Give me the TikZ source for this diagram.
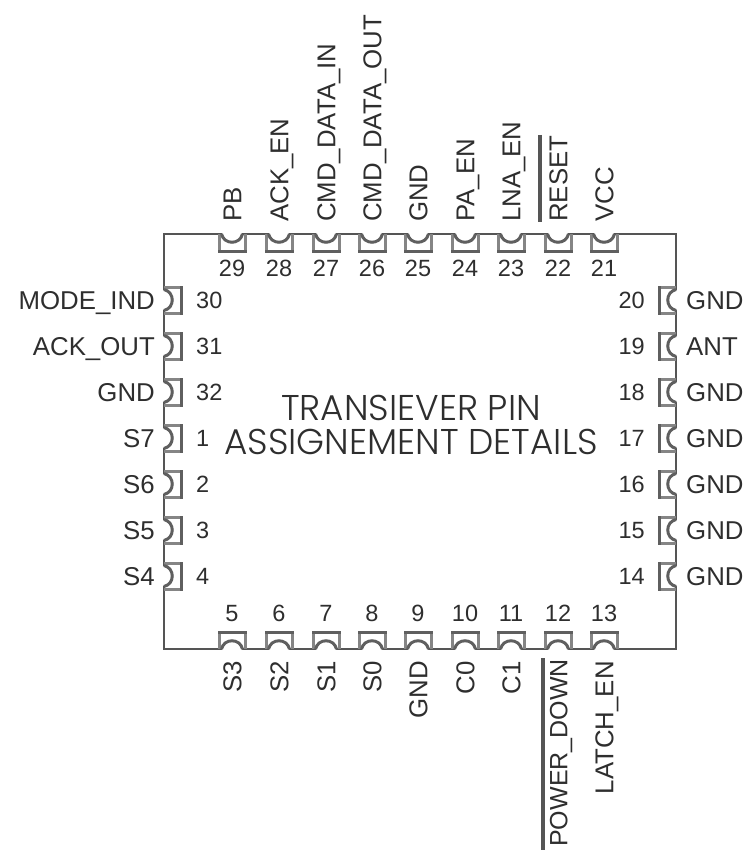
\documentclass[tikz,border=0pt]{standalone}
\usepackage{fontspec}
\setmainfont{Liberation Sans}
\newfontfamily\titlefont{Poppins}[UprightFont=* Light]
\definecolor{bodyline}{HTML}{555555}
\definecolor{padline}{HTML}{858585}
\definecolor{txt}{HTML}{2E2E2E}
\tikzset{
  x=1pt,y=-1pt,
  outline/.style={draw=bodyline,line width=2.8pt},
  pin/.style={text=txt,inner sep=0pt,text height=17pt,text depth=0pt,font=\fontsize{23.5}{24}\selectfont},
  sig/.style={text=txt,inner sep=0pt,text height=18.5pt,text depth=0pt,font=\fontsize{25.8}{26}\selectfont},
  bar/.style={draw=bodyline,line width=4pt},
  pads/.pic={
    \draw[padline,line width=3pt] (-13,0)--(-13,17)--(13,17)--(13,0);
    \draw[bodyline!80!padline,line width=3pt,line cap=rect] (-13,17)--(13,17);
    \fill[white] (-10,-2) rectangle (10,2);
    \path[fill=white,draw=bodyline!80!padline,line width=3pt] (-10.5,0) .. controls (-8,11) and (8,11) .. (10.5,0);
  }
}
\begin{document}
\begin{tikzpicture}
\useasboundingbox (0,0) rectangle (745,850);
\fill[white] (0,0) rectangle (745,850);
\path[outline] (164,234) rectangle (676,649);
% top side
\foreach \x/\n/\s in {232/29/PB,279/28/ACK\_EN,326/27/CMD\_DATA\_IN,372/26/CMD\_DATA\_OUT,418/25/GND,465/24/PA\_EN,511/23/LNA\_EN,558/22/RESET,604/21/VCC}{
  \pic at (\x,234) {pads};
  \node[pin] (p\n) at (\x,268) {\n};
  \node[sig,rotate=90,anchor=west] (s\n) at (\x,222) {\s};
}
% bottom side
\foreach \x/\n/\s in {232/5/S3,279/6/S2,326/7/S1,372/8/S0,418/9/GND,465/10/C0,511/11/C1,604/13/LATCH\_EN}{
  \pic[rotate=180] at (\x,649) {pads};
  \node[pin] (p\n) at (\x,613) {\n};
  \node[sig,rotate=90,anchor=east] (s\n) at (\x,661) {\s};
}
\pic[rotate=180] at (558,649) {pads};
\node[pin] (p12) at (558,613) {12};
\node[sig,rotate=90,anchor=east,font=\fontsize{25}{26}\selectfont] (s12) at (558,659) {POWER\_DOWN};
% left side
\foreach \y/\n/\s in {300/30/MODE\_IND,346/31/ACK\_OUT,392/32/GND,438/1/S7,484/2/S6,530/3/S5,576/4/S4}{
  \pic[rotate=90] at (164,\y) {pads};
  \node[pin,anchor=west] (p\n) at (196,\y) {\n};
  \node[sig,anchor=east] (s\n) at (155,\y) {\s};
}
% right side
\foreach \y/\n/\s in {300/20/GND,346/19/ANT,392/18/GND,438/17/GND,484/16/GND,530/15/GND,576/14/GND}{
  \pic[rotate=-90] at (676,\y) {pads};
  \node[pin,anchor=east] (p\n) at (645,\y) {\n};
  \node[sig,anchor=west] (s\n) at (686,\y) {\s};
}
% active-low bars
\coordinate (ra) at (540,135);
\coordinate (rb) at (540,222);
\draw[bar] (ra)--(rb);
\coordinate (pa) at (543,658);
\coordinate (pb) at (543,850);
\draw[bar] (pa)--(pb);
% title
\node[text=txt,inner sep=0pt,align=center,font=\titlefont\fontsize{35.8}{34}\selectfont] (title) at (411,424.5) {TRANSIEVER PIN\\ASSIGNEMENT DETAILS};
\end{tikzpicture}
\end{document}
